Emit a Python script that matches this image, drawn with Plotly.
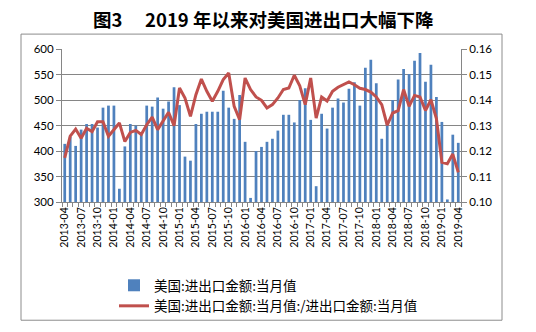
import plotly.graph_objects as go

# ---- data ----
months = []
y, m = 2013, 4
for _ in range(73):
    months.append(f"{y}-{m:02d}")
    m += 1
    if m > 12:
        m = 1
        y += 1

trade_value = [
    414, 428, 410, 442, 453, 453, 446, 485, 489, 489,
    326, 409, 453, 450, 432, 489, 487, 505, 483, 497,
    525, 490, 389, 381, 453, 473, 477, 477, 477, 518,
    485, 463, 510, 418, 308, 400, 408, 418, 424, 440,
    471, 471, 456, 500, 523, 461, 331, 473, 444, 485,
    503, 495, 522, 535, 489, 563, 579, 533, 424, 455,
    500, 540, 561, 551, 577, 592, 536, 569, 506, 457,
    305, 432, 416,
]

share = [
    0.1173, 0.1258, 0.1286, 0.1250, 0.1289, 0.1276, 0.1315, 0.1315, 0.1258, 0.1284,
    0.1310, 0.1237, 0.1273, 0.1281, 0.1265, 0.1303, 0.1333, 0.1284, 0.1316, 0.1352,
    0.1299, 0.1447, 0.1408, 0.1336, 0.1421, 0.1482, 0.1434, 0.1395, 0.1434, 0.1480,
    0.1506, 0.1375, 0.1323, 0.1486, 0.1441, 0.1412, 0.1399, 0.1369, 0.1382, 0.1408,
    0.1441, 0.1447, 0.1497, 0.1456, 0.1382, 0.1486, 0.1329, 0.1412, 0.1396, 0.1434,
    0.1450, 0.1460, 0.1471, 0.1460, 0.1446, 0.1441, 0.1431, 0.1412, 0.1382, 0.1301,
    0.1349, 0.1358, 0.1441, 0.1375, 0.1418, 0.1412, 0.1359, 0.1401, 0.1327, 0.1156,
    0.1150, 0.1188, 0.1116,
]

label_idx = list(range(0, 73, 3))
tick_labels = [months[i] for i in label_idx]

title_text = "图3　 2019 年以来对美国进出口大幅下降"
bar_name = "美国:进出口金额:当月值"
line_name = "美国:进出口金额:当月值:/进出口金额:当月值"

# ---- layout geometry (pixels) ----
W, H = 536, 332
PL, PR, PT, PB = 62, 461, 49, 203
pw, ph = PR - PL, PB - PT

def px_x(x):
    return (x - PL) / pw

def px_y(y):
    return (PB - y) / ph

GRAY = "#868686"
CJK = "Noto Sans CJK SC"
NUM = "Lato"

xs = list(range(73))

fig = go.Figure()
fig.add_trace(go.Bar(
    x=xs, y=trade_value, name=bar_name,
    marker=dict(color="#4F81BD", line=dict(width=0)),
    yaxis="y",
))
fig.add_trace(go.Scatter(
    x=xs, y=share, name=line_name, mode="lines",
    line=dict(color="#C0504D", width=3),
    yaxis="y2",
))

fig.update_layout(
    width=W, height=H,
    margin=dict(l=PL, r=W - PR, t=PT, b=H - PB, pad=0),
    paper_bgcolor="white", plot_bgcolor="white",
    bargap=0.5,
    showlegend=True,
    legend=dict(
        x=px_x(114), y=px_y(270), xanchor="left", yanchor="top",
        font=dict(family=CJK, size=13.5, color="#000"),
        tracegroupgap=0, itemwidth=30,
        bgcolor="rgba(0,0,0,0)",
    ),
    xaxis=dict(
        range=[-0.5, 72.5],
        tickmode="array", tickvals=label_idx, ticktext=tick_labels,
        tickangle=-90, ticks="",
        tickfont=dict(family=NUM, size=10.5, color="#000"),
        showline=True, linecolor=GRAY, linewidth=1,
        showgrid=False, zeroline=False,
        minor=dict(tickmode="array", tickvals=[i - 0.5 for i in range(74)],
                   ticks="outside", ticklen=4, tickcolor=GRAY, tickwidth=1,
                   showgrid=False),
    ),
    yaxis=dict(
        range=[300, 600], tickmode="array",
        tickvals=[300, 350, 400, 450, 500, 550, 600],
        ticks="outside", ticklen=5, tickcolor=GRAY,
        tickfont=dict(family=NUM, size=11.5, color="#000"),
        showline=True, linecolor=GRAY, linewidth=1,
        showgrid=True, gridcolor=GRAY, gridwidth=1, zeroline=False,
    ),
    yaxis2=dict(
        range=[0.10, 0.16], overlaying="y", side="right",
        tickmode="array",
        tickvals=[0.10, 0.11, 0.12, 0.13, 0.14, 0.15, 0.16],
        tickformat=".2f",
        ticks="outside", ticklen=5, tickcolor=GRAY,
        tickfont=dict(family=NUM, size=11.5, color="#000"),
        showline=True, linecolor=GRAY, linewidth=1,
        showgrid=False, zeroline=False,
    ),
    shapes=[
        dict(type="rect", xref="paper", yref="paper",
             x0=px_x(21), x1=px_x(502), y0=px_y(322), y1=px_y(34),
             line=dict(color="#8C8C8C", width=1), fillcolor="rgba(0,0,0,0)",
             layer="below"),
    ],
    annotations=[
        dict(text="<b>" + title_text + "</b>", xref="paper", yref="paper",
             x=px_x(263), y=px_y(19), xanchor="center", yanchor="middle",
             showarrow=False, font=dict(family=CJK, size=18.5, color="#000")),
    ],
)

fig.write_html("out.html")
